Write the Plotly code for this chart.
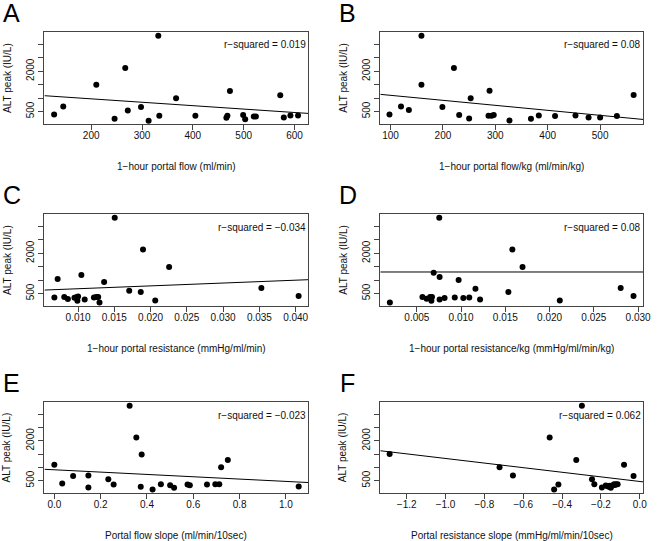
''' ALT peak vs portal haemodynamics: six scatter panels '''
import plotly.graph_objects as go

# panel A: 1-hour portal flow
flow_a = [127, 145, 210, 246, 267, 272, 298, 313, 332, 334, 367, 405, 466, 468,
          473, 499, 503, 520, 524, 572, 579, 592, 607]
alt_a = [387, 687, 1500, 225, 2125, 537, 662, 150, 3325, 337, 987, 337, 262, 337,
         1262, 362, 212, 312, 312, 1100, 275, 350, 350]

# panel B: 1-hour portal flow per kg
flow_kg_b = [98, 120, 135, 159, 159, 199, 221, 231, 250, 253, 289, 287, 293, 297,
             327, 368, 383, 414, 453, 478, 500, 532, 564]
alt_b = [387, 687, 550, 3325, 1500, 662, 2125, 362, 237, 987, 1275, 337, 337, 362,
         162, 225, 350, 325, 350, 275, 275, 325, 1112]

# panel C: 1-hour portal resistance
resist_c = [0.00673, 0.00718, 0.00809, 0.00859, 0.0095, 0.00982, 0.0100, 0.0099,
            0.01045, 0.01091, 0.01218, 0.0125, 0.01277, 0.01295, 0.01359, 0.01505,
            0.01705, 0.01864, 0.01895, 0.02064, 0.02255, 0.03527, 0.04041]
alt_c = [350, 1037, 362, 287, 337, 362, 387, 225, 1187, 275, 350, 362, 362, 162,
         925, 3325, 600, 550, 2137, 237, 1487, 700, 400]

# panel D: 1-hour portal resistance per kg
resist_kg_d = [0.00195, 0.00563, 0.00649, 0.00671, 0.0061, 0.00664, 0.0069, 0.00757,
               0.00757, 0.00813, 0.00928, 0.00972, 0.01025, 0.01092, 0.01162, 0.01214,
               0.00753, 0.01534, 0.01579, 0.01694, 0.02115, 0.02803, 0.02948]
alt_d = [162, 362, 362, 362, 300, 225, 1275, 1112, 275, 325, 350, 1000, 325, 350,
         675, 275, 3325, 550, 2137, 1487, 237, 700, 400]

# panel E: portal flow slope
flow_slope_e = [0.0, 0.034, 0.081, 0.147, 0.147, 0.233, 0.256, 0.325, 0.354, 0.373,
                0.377, 0.424, 0.46, 0.5, 0.517, 0.575, 0.585, 0.659, 0.695, 0.712,
                0.72, 0.749, 1.055]
alt_e = [1100, 387, 675, 687, 237, 550, 350, 3325, 2125, 262, 1487, 162, 362, 325,
         225, 350, 325, 350, 362, 362, 1000, 1275, 275]

# panel F: portal resistance slope
resist_slope_f = [-1.288, -0.722, -0.653, -0.464, -0.441, -0.419, -0.327, -0.298,
                  -0.246, -0.234, -0.195, -0.175, -0.166, -0.158, -0.155, -0.149,
                  -0.141, -0.132, -0.128, -0.122, -0.114, -0.081, -0.032]
alt_f = [1500, 1000, 687, 2125, 162, 350, 1275, 3325, 550, 362, 237, 312, 287, 262,
         300, 225, 312, 362, 330, 362, 362, 1100, 675]

# fitted lines (intercept, slope) and adjusted r-squared labels
fits = [(1224.8, -1.2755), (1287.4, -1.868), (568, 10641),
        (1300, 0), (906.3, -439.1), (465, -868.4)]
r_squared = ['0.019', '0.08', '\u22120.034', '0.08', '\u22120.023', '0.062']

letters = ['A', 'B', 'C', 'D', 'E', 'F']
x_titles = ['1\u2212hour portal flow (ml/min)',
            '1\u2212hour portal flow/kg (ml/min/kg)',
            '1\u2212hour portal resistance (mmHg/ml/min)',
            '1\u2212hour portal resistance/kg (mmHg/ml/min/kg)',
            'Portal flow slope (ml/min/10sec)',
            'Portal resistance slope (mmHg/ml/min/10sec)']
x_ranges = [[108, 627], [80.5, 582], [0.00536, 0.04173],
            [0.00087, 0.03056], [-0.0427, 1.096], [-1.336, 0.017]]
x_ticks = [[200, 300, 400, 500, 600], [100, 200, 300, 400, 500],
           [0.010, 0.015, 0.020, 0.025, 0.030, 0.035, 0.040],
           [0.005, 0.010, 0.015, 0.020, 0.025, 0.030],
           [0.0, 0.2, 0.4, 0.6, 0.8, 1.0],
           [-1.2, -1.0, -0.8, -0.6, -0.4, -0.2, 0.0]]
x_formats = ['d', 'd', '.3f', '.3f', '.1f', '.1f']
y_ticks = [500, 1000, 1500, 2000, 2500, 3000]
y_tick_text = ['500', '', '', '2000', '', '']

xs = [flow_a, flow_kg_b, resist_c, resist_kg_d, flow_slope_e, resist_slope_f]
ys = [alt_a, alt_b, alt_c, alt_d, alt_e, alt_f]

W, H = 657, 541
col_px = [(45, 312), (385, 651)]
row_px = [(32, 124), (214, 306), (402, 493)]

FONT = 'Liberation Sans, Arial, Helvetica, sans-serif'
TXT = '#111111'
FRAME = '#444444'

fig = go.Figure()
layout = dict(
    width=W, height=H,
    margin=dict(l=0, r=0, t=0, b=0),
    paper_bgcolor='white', plot_bgcolor='white',
    showlegend=False,
    font=dict(family=FONT, size=10, color=TXT),
)
annotations = []

for i in range(6):
    row, col = divmod(i, 2)
    n = '' if i == 0 else str(i + 1)
    x0, x1 = col_px[col]
    top, bottom = row_px[row]

    fig.add_trace(go.Scatter(
        x=xs[i], y=ys[i], mode='markers',
        marker=dict(color='black', size=6),
        xaxis='x' + n, yaxis='y' + n,
    ))

    intercept, slope = fits[i]
    line_x = x_ranges[i]
    fig.add_trace(go.Scatter(
        x=line_x, y=[intercept + slope * v for v in line_x], mode='lines',
        line=dict(color='black', width=1),
        xaxis='x' + n, yaxis='y' + n,
    ))

    layout['xaxis' + n] = dict(
        domain=[x0 / W, x1 / W], anchor='y' + n,
        range=x_ranges[i], tickvals=x_ticks[i], tickformat=x_formats[i],
        showgrid=False, zeroline=False,
        showline=True, mirror=True, linecolor=FRAME, linewidth=1,
        ticks='outside', ticklen=5, tickcolor=FRAME,
        ticklabelstandoff=-3, ticklabeloverflow='allow',
        tickfont=dict(size=10, color=TXT),
    )
    layout['yaxis' + n] = dict(
        domain=[1 - bottom / H, 1 - top / H], anchor='x' + n,
        range=[30, 3465], tickvals=y_ticks, ticktext=y_tick_text,
        tickangle=-90,
        showgrid=False, zeroline=False,
        showline=True, mirror=True, linecolor=FRAME, linewidth=1,
        ticks='outside', ticklen=5, tickcolor=FRAME,
        ticklabeloverflow='allow',
        tickfont=dict(size=10, color=TXT),
    )

    box_h = bottom - top
    annotations.append(dict(
        text='r\u2212squared = ' + r_squared[i],
        xref='x' + n + ' domain', yref='y' + n + ' domain',
        x=1, y=1 - 13 / box_h, xanchor='right', yanchor='middle',
        showarrow=False, font=dict(size=10, color=TXT),
    ))
    annotations.append(dict(
        text=x_titles[i],
        xref='x' + n + ' domain', yref='y' + n + ' domain',
        x=0.5, y=-42 / box_h, xanchor='center', yanchor='middle',
        showarrow=False, font=dict(size=10, color=TXT),
    ))
    annotations.append(dict(
        text='ALT peak (IU/L)', textangle=-90,
        xref='paper', yref='y' + n + ' domain',
        x=(x0 - 38) / W, y=0.5, xanchor='center', yanchor='middle',
        showarrow=False, font=dict(size=10, color=TXT),
    ))
    annotations.append(dict(
        text=letters[i],
        xref='paper', yref='paper',
        x=(x0 - 33) / W, y=1 - (top - 19) / H, xanchor='center', yanchor='middle',
        showarrow=False, font=dict(size=25, color='black'),
    ))

layout['annotations'] = annotations
fig.update_layout(**layout)

# page body has an 8px default margin; drop it so the figure sits at 0,0
fig.write_html('out.html', config={'displayModeBar': False},
               post_script="document.body.style.margin='0';")
